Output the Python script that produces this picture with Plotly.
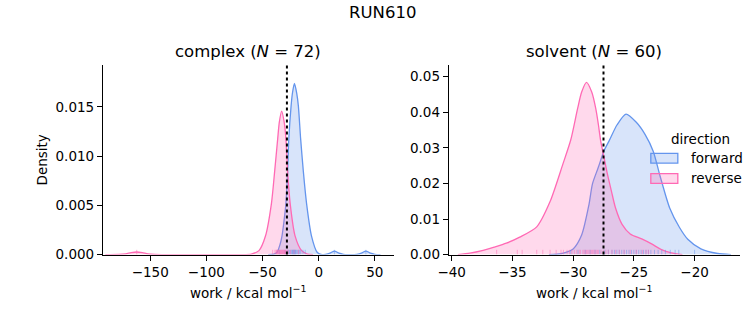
import plotly.graph_objects as go

# ---------------- data ----------------
complex_fwd_x = [-45, -40, -37.1, -34.5, -32.7, -30.8, -29.2, -27.7, -26.6, -24.6, -23.4, -21.6,
                 -19.6, -18.1, -16.1, -13.7, -10.8, -6.4, -1.4, 2, 6, 10, 14, 18, 22, 26,
                 34, 38, 42, 46, 50, 55]
complex_fwd_y = [0.0, 0.00005, 0.00024, 0.001, 0.00188, 0.0035, 0.00518, 0.00847, 0.01177, 0.01507,
                 0.01638, 0.01737, 0.01638, 0.01507, 0.01177, 0.00847, 0.00518, 0.00188, 0.00024,
                 0.00002, 0.00003, 0.00014, 0.00036, 0.00014, 0.00003, 0.0,
                 0.00003, 0.00014, 0.00036, 0.00014, 0.00003, 0.0]

complex_rev_x = [-190, -178, -172, -167, -162, -157, -152, -146, -140, -70, -60, -53.2, -47.4,
                 -42.1, -39.2, -36.5, -35.1, -33.0, -30.7, -29.2, -27.7, -25.4, -21.0, -15.2, -10, -5]
complex_rev_y = [0.0, 0.00002, 0.00008, 0.00019, 0.00026, 0.00019, 0.00008, 0.00002, 0.0, 0.0,
                 0.00005, 0.0004, 0.00188, 0.00518, 0.00847, 0.01177, 0.01342, 0.01457, 0.01342,
                 0.01177, 0.00847, 0.00518, 0.00188, 0.0004, 0.00005, 0.0]

solvent_fwd_x = [-32.0, -31.0, -30.0, -29.3, -28.7, -28.41, -27.92, -27.46, -27.05, -26.38, -25.65,
                 -24.8, -24.08, -23.4, -22.86, -22.05, -21.24, -20.56, -19.48, -18.1, -17.0]
solvent_fwd_y = [0.0, 0.0003, 0.0016, 0.0055, 0.0140, 0.0199, 0.0246, 0.0292, 0.0319, 0.0365, 0.0395,
                 0.0372, 0.0338, 0.0290, 0.0223, 0.0131, 0.0076, 0.0043, 0.0016, 0.0003, 0.0]

solvent_rev_x = [-39.5, -38.5, -37.5, -36.5, -35.5, -34.4, -33.0, -31.9, -30.84, -30.2, -29.63,
                 -29.3, -28.9, -28.47, -28.14, -27.92, -27.73, -27.46, -27.19, -26.84, -26.51,
                 -25.97, -25.3, -24.35, -23.54, -22.73, -21.92, -21.0]
solvent_rev_y = [0.0, 0.0004, 0.0011, 0.0021, 0.0032, 0.0049, 0.0078, 0.0149, 0.0255, 0.0322, 0.0411,
                 0.0457, 0.0484, 0.0457, 0.0411, 0.0365, 0.0319, 0.0274, 0.0228, 0.0177, 0.0131,
                 0.0085, 0.0058, 0.0044, 0.0030, 0.0014, 0.0005, 0.0]

# rug samples
complex_fwd_rug = [-35, -30, -28, -27, -26, -25, -24, -23.5, -23, -22.5, -22, -21.5, -21, -20.5,
                   -20, -19, -18, -17, -16, -14, -12, 14, 42]
complex_rev_rug = [-162, -41, -39, -38, -37.5, -37, -36.5, -36, -35.5, -35, -34.5, -34, -33.5, -33,
                   -32.5, -32, -31.5, -31, -30.5, -30, -29.5, -29, -28, -27, -25, -22, -18]
solvent_fwd_rug = [-30.2, -29.6, -29.0, -28.6, -28.2, -27.8, -27.4, -27.1, -26.8, -26.6, -26.4, -26.2,
                   -26.0, -25.8, -25.6, -25.4, -25.2, -25.0, -24.8, -24.6, -24.4, -24.2, -24.0, -23.8,
                   -23.6, -23.3, -23.0, -22.7, -22.4, -22.0, -21.6, -21.3, -20.0]
solvent_rev_rug = [-36.3, -34.6, -34.2, -33.0, -32.5, -31.9, -31.4, -31.0, -30.8, -30.5, -30.3, -30.1,
                   -29.9, -29.7, -29.5, -29.4, -29.2, -29.1, -29.0, -28.9, -28.8, -28.7, -28.6, -28.5,
                   -28.4, -28.3, -28.2, -28.1, -28.0, -27.9, -27.7, -27.5, -27.3, -27.1, -26.8, -26.5,
                   -26.2, -25.8, -25.3, -24.8, -24.3, -24.0, -23.8]

complex_estimate = -28.3
solvent_estimate = -27.5

complex_xticks = [-150, -100, -50, 0, 50]
complex_xtext = ["\u2212150", "\u2212100", "\u221250", "0", "50"]
complex_yticks = [0.0, 0.005, 0.010, 0.015]
complex_ytext = ["0.000", "0.005", "0.010", "0.015"]
solvent_xticks = [-40, -35, -30, -25, -20]
solvent_xtext = ["\u221240", "\u221235", "\u221230", "\u221225", "\u221220"]
solvent_yticks = [0.0, 0.01, 0.02, 0.03, 0.04, 0.05]
solvent_ytext = ["0.00", "0.01", "0.02", "0.03", "0.04", "0.05"]

titles = ["complex (<i>N</i> = 72)", "solvent (<i>N</i> = 60)"]
directions = ["forward", "reverse"]

# ---------------- styling ----------------
W, H = 753, 325
FONT = "DejaVu Sans"
BLUE = "rgb(100,149,237)"
PINK = "rgb(255,105,180)"
BLUE_F = "rgba(100,149,237,0.25)"
PINK_F = "rgba(255,105,180,0.25)"
BLUE_R = "rgba(100,149,237,0.5)"
PINK_R = "rgba(255,105,180,0.5)"

ax1 = (93.3, 388.3)
ax2 = (444.3, 739.3)
ytop, ybot = 67.0, 261.0
xr1 = [-192.1, 66.7]
yr1 = [0, 0.01921]
xr2 = [-40.24, -16.3]
yr2 = [0, 0.0532]


def px(x):
    return x / W


def py(y):
    return 1 - y / H


fig = go.Figure()


def kde(x, y, line, fill, xa, ya):
    fig.add_trace(go.Scatter(x=x, y=y, mode="lines", line=dict(color=line, width=1.3, shape="spline",
                                                                  smoothing=0.7),
                             fill="tozeroy", fillcolor=fill, xaxis=xa, yaxis=ya,
                             showlegend=False, hoverinfo="skip"))


def rug(vals, color, h, xa, ya):
    xs, ys = [], []
    for v in vals:
        xs += [v, v, None]
        ys += [0, h, None]
    fig.add_trace(go.Scatter(x=xs, y=ys, mode="lines", line=dict(color=color, width=1),
                             xaxis=xa, yaxis=ya, showlegend=False, hoverinfo="skip"))


kde(complex_fwd_x, complex_fwd_y, BLUE, BLUE_F, "x", "y")
kde(complex_rev_x, complex_rev_y, PINK, PINK_F, "x", "y")
rug(complex_fwd_rug, BLUE_R, 0.025 * yr1[1], "x", "y")
rug(complex_rev_rug, PINK_R, 0.025 * yr1[1], "x", "y")

kde(solvent_fwd_x, solvent_fwd_y, BLUE, BLUE_F, "x2", "y2")
kde(solvent_rev_x, solvent_rev_y, PINK, PINK_F, "x2", "y2")
rug(solvent_fwd_rug, BLUE_R, 0.025 * yr2[1], "x2", "y2")
rug(solvent_rev_rug, PINK_R, 0.025 * yr2[1], "x2", "y2")

tickfont = dict(family=FONT, size=13.5, color="black")
axis_common = dict(showgrid=False, zeroline=False, showline=True, linecolor="black", linewidth=1.1,
                   ticks="outside", ticklen=5, tickwidth=1.1, tickcolor="black", tickfont=tickfont,
                   tickmode="array")

fig.update_layout(
    width=W, height=H, margin=dict(l=0, r=0, t=0, b=0),
    plot_bgcolor="white", paper_bgcolor="white",
    font=dict(family=FONT, color="black"),
    xaxis=dict(domain=[px(ax1[0]), px(ax1[1])], range=xr1, anchor="y",
               tickvals=complex_xticks, ticktext=complex_xtext, **axis_common),
    yaxis=dict(domain=[py(ybot), py(ytop)], range=yr1, anchor="x",
               tickvals=complex_yticks, ticktext=complex_ytext, **axis_common),
    xaxis2=dict(domain=[px(ax2[0]), px(ax2[1])], range=xr2, anchor="y2",
                tickvals=solvent_xticks, ticktext=solvent_xtext, **axis_common),
    yaxis2=dict(domain=[py(ybot), py(ytop)], range=yr2, anchor="x2",
                tickvals=solvent_yticks, ticktext=solvent_ytext, **axis_common),
)

# estimate lines
fig.add_shape(type="line", xref="x", yref="y domain", x0=complex_estimate, x1=complex_estimate,
              y0=0, y1=1, line=dict(color="black", width=2, dash="dot"))
fig.add_shape(type="line", xref="x2", yref="y2 domain", x0=solvent_estimate, x1=solvent_estimate,
              y0=0, y1=1, line=dict(color="black", width=2, dash="dot"))

# titles
fig.add_annotation(text="RUN610", x=0.5, y=py(13), xref="paper", yref="paper", showarrow=False,
                   font=dict(family=FONT, size=16.5), xanchor="center", yanchor="middle")
fig.add_annotation(text=titles[0], x=px((ax1[0] + ax1[1]) / 2), y=py(53), xref="paper", yref="paper",
                   showarrow=False, font=dict(family=FONT, size=16.5), xanchor="center", yanchor="middle")
fig.add_annotation(text=titles[1], x=px((ax2[0] + ax2[1]) / 2), y=py(53), xref="paper", yref="paper",
                   showarrow=False, font=dict(family=FONT, size=16.5), xanchor="center", yanchor="middle")

# axis labels
xlabel = "work / kcal mol<sup>\u22121</sup>"
for a in (ax1, ax2):
    fig.add_annotation(text=xlabel, x=px((a[0] + a[1]) / 2), y=py(299), xref="paper", yref="paper",
                       showarrow=False, font=dict(family=FONT, size=13.5), xanchor="center",
                       yanchor="middle")
fig.add_annotation(text="Density", x=px(31), y=py((ytop + ybot) / 2), xref="paper", yref="paper",
                   showarrow=False, textangle=-90, font=dict(family=FONT, size=13.5),
                   xanchor="center", yanchor="middle")

# legend (drawn manually)
fig.add_annotation(text="direction", x=px(700), y=py(142), xref="paper", yref="paper", showarrow=False,
                   font=dict(family=FONT, size=13.5), xanchor="center", yanchor="middle")
for name, lc, fc, yc in [(directions[0], BLUE, BLUE_F, 162.3), (directions[1], PINK, PINK_F, 183.0)]:
    fig.add_shape(type="rect", xref="paper", yref="paper", x0=px(649.3), x1=px(676.7),
                  y0=py(yc - 5), y1=py(yc + 5), line=dict(color=lc, width=1.3), fillcolor=fc)
    fig.add_annotation(text=name, x=px(688), y=py(yc), xref="paper", yref="paper", showarrow=False,
                       font=dict(family=FONT, size=13.5), xanchor="left", yanchor="middle")

fig.write_html("out.html")
